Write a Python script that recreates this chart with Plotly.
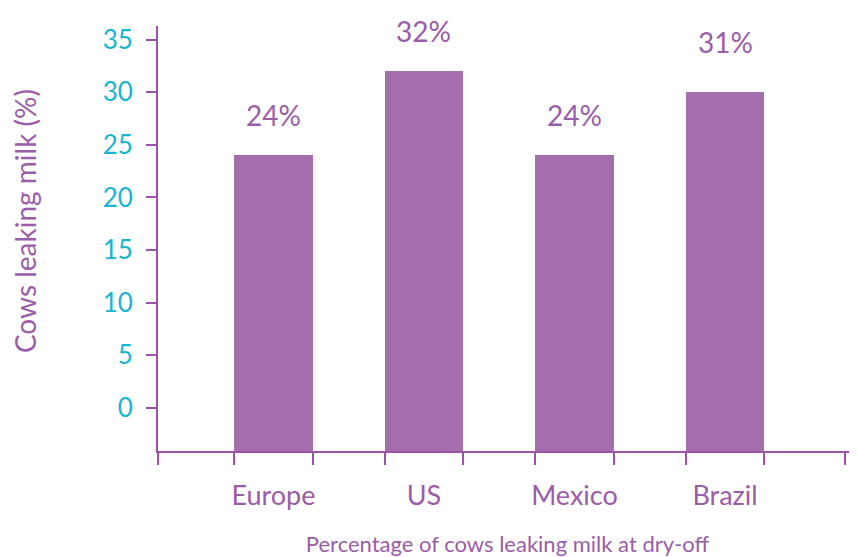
import plotly.graph_objects as go

categories = ["Europe", "US", "Mexico", "Brazil"]
bar_values = [24, 32, 24, 30]
label_values = [24, 32, 24, 31]
label_texts = ["24%", "32%", "24%", "31%"]
y_ticks = [0, 5, 10, 15, 20, 25, 30, 35]

BAR_COLOR = "#a56fad"
LINE_COLOR = "#9c52a8"
TEXT_PURPLE = "#9b5ca9"
CYAN = "#17b5d1"
FONT = "Lato"

x_pos = list(range(len(categories)))
bar_width = 0.52
y_min = -4.1
x_range = [-0.767, 3.877]

fig = go.Figure()
fig.add_trace(go.Bar(
    x=x_pos,
    y=[v - y_min for v in bar_values],
    base=y_min,
    width=bar_width,
    marker=dict(color=BAR_COLOR, line=dict(width=0)),
    hoverinfo="skip",
    showlegend=False,
))

edges = [x_range[0]]
for p in x_pos:
    edges += [p - bar_width / 2, p + bar_width / 2]
edges.append(3.80)

for p, lv, t in zip(x_pos, label_values, label_texts):
    fig.add_annotation(x=p, y=lv, text=t, showarrow=False, yshift=40,
                       xref="x", yref="y",
                       font=dict(family=FONT, size=28, color=TEXT_PURPLE))

fig.add_annotation(text="Cows leaking milk (%)", textangle=-90,
                   xref="paper", yref="paper", x=0, y=0.541,
                   xanchor="center", yanchor="middle", xshift=-133,
                   showarrow=False,
                   font=dict(family=FONT, size=28, color=TEXT_PURPLE))

fig.update_layout(
    width=849, height=549,
    margin=dict(l=150, r=0, t=18, b=106),
    paper_bgcolor="white", plot_bgcolor="white",
    font=dict(family=FONT),
    bargap=0,
    xaxis=dict(
        range=x_range,
        tickmode="array", tickvals=x_pos, ticktext=categories,
        ticks="", showgrid=False, zeroline=False,
        showline=True, linecolor=LINE_COLOR, linewidth=2,
        tickfont=dict(family=FONT, size=27, color=TEXT_PURPLE),
        ticklabelstandoff=20,
        minor=dict(tickmode="array", tickvals=edges, ticks="outside",
                   ticklen=12, tickwidth=2, tickcolor=LINE_COLOR, showgrid=False),
        title=dict(text="Percentage of cows leaking milk at dry-off",
                   font=dict(family=FONT, size=22, color=TEXT_PURPLE),
                   standoff=26),
        automargin=False,
    ),
    yaxis=dict(
        range=[y_min, 36.3],
        tickmode="array", tickvals=y_ticks,
        ticks="outside", ticklen=10, tickwidth=2, tickcolor=LINE_COLOR,
        showgrid=False, zeroline=False,
        showline=True, linecolor=LINE_COLOR, linewidth=2,
        tickfont=dict(family=FONT, size=26, color=CYAN),
        ticklabelstandoff=8,
        automargin=False,
    ),
)

fig.write_html("out.html")
